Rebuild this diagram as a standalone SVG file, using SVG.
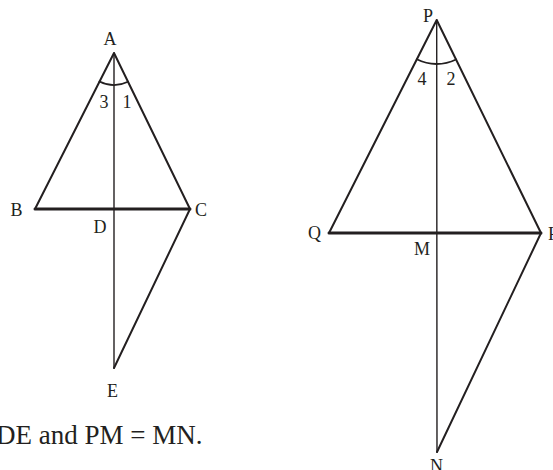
<svg xmlns="http://www.w3.org/2000/svg" width="553" height="470" viewBox="0 0 553 470">
<style>
.l{stroke:#231f20;fill:none;stroke-linecap:round;stroke-linejoin:round}
.side{stroke-width:2}
.base{stroke-width:3}
.thin{stroke-width:1.4}
.arc{stroke-width:1.8}
text{font-family:"Liberation Serif","Times New Roman",serif;fill:#231f20;font-size:18px}
.cap{font-size:27px}
</style>
<rect width="553" height="470" fill="#fff"/>
<g id="fig1">
<line class="l thin" x1="114" y1="53" x2="114" y2="368"/>
<polyline class="l side" points="35,209 114,53 190,209"/>
<line class="l base" x1="35" y1="209" x2="190" y2="209"/>
<line class="l side" x1="190" y1="209" x2="114" y2="368"/>
<path class="l arc" d="M 99.5 81.5 A 32 32 0 0 0 128 81.8"/>
<text x="110" y="45" text-anchor="middle">A</text>
<text x="104" y="108" text-anchor="middle">3</text>
<text x="127" y="108" text-anchor="middle">1</text>
<text x="16.5" y="216" text-anchor="middle">B</text>
<text x="195" y="216">C</text>
<text x="100" y="233" text-anchor="middle">D</text>
<text x="112.5" y="397" text-anchor="middle">E</text>
</g>
<g id="fig2">
<line class="l thin" x1="436.7" y1="20" x2="437" y2="452"/>
<polyline class="l side" points="329,233 436.7,20 541,233"/>
<line class="l base" x1="329" y1="233" x2="541" y2="233"/>
<line class="l side" x1="541" y1="233" x2="437" y2="452"/>
<path class="l arc" d="M 416.8 59.3 A 44 44 0 0 0 456 59.5"/>
<text x="428" y="22" text-anchor="middle">P</text>
<text x="422" y="85" text-anchor="middle">4</text>
<text x="451" y="85" text-anchor="middle">2</text>
<text x="308" y="239">Q</text>
<text x="548" y="240">R</text>
<text x="414" y="255">M</text>
<text x="430" y="472">N</text>
</g>
<text class="cap" x="-4" y="444">DE and PM = MN.</text>
</svg>
